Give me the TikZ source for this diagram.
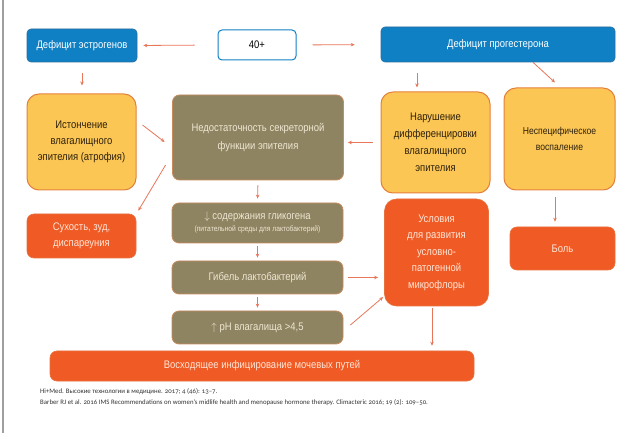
\documentclass[tikz,border=0pt]{standalone}
\usepackage{fontspec}
\setmainfont{Liberation Sans}[FakeStretch=0.86]
\newfontfamily\reffont{Carlito}[Numbers=OldStyle]
\usetikzlibrary{arrows.meta}
\definecolor{cblue}{HTML}{1080C4}
\definecolor{cblueb}{HTML}{2A6E9E}
\definecolor{cyel}{HTML}{FBC654}
\definecolor{cyelb}{HTML}{E5803C}
\definecolor{colive}{HTML}{8E8462}
\definecolor{coliveb}{HTML}{C98B5E}
\definecolor{colivet}{HTML}{EEE6D2}
\definecolor{corg}{HTML}{F05A24}
\definecolor{corgb}{HTML}{E8703C}
\definecolor{corgt}{HTML}{FFE6D8}
\definecolor{carr}{HTML}{E8775A}
\definecolor{cytext}{HTML}{2E200C}
\begin{document}
\begin{tikzpicture}[x=1pt,y=-1pt,
  box/.style={rectangle,align=center,inner sep=2pt,font=\fontsize{11}{16}\selectfont},
  bluebox/.style={box,fill=cblue,draw=cblueb,line width=0.6pt,text=white,rounded corners=4pt},
  whitebox/.style={box,fill=white,draw=cblue,line width=1pt,text=black,rounded corners=4pt},
  yelbox/.style={box,fill=cyel,draw=cyelb,line width=1pt,text=cytext,rounded corners=12pt},
  olbox/.style={box,fill=colive,draw=coliveb,line width=0.8pt,text=colivet,rounded corners=7pt},
  orbox/.style={box,fill=corg,draw=corgb,line width=0.6pt,text=corgt,rounded corners=7pt},
  arr/.style={draw=carr,line width=0.8pt,-{Stealth[length=4pt,width=3.5pt]}}]
\useasboundingbox (0,0) rectangle (641,433);
\fill[white] (0,0) rectangle (641,433);
\fill[gray!75] (2,0) rectangle (4.2,433);

\node[bluebox,minimum width=110pt,minimum height=33pt] (estr) at (82,45.5) {Дефицит эстрогенов};
\node[whitebox,minimum width=78pt,minimum height=30pt] (forty) at (257,45) {40+};
\node[bluebox,minimum width=234pt,minimum height=35pt] (prog) at (498,44.5) {Дефицит прогестерона};

\node[yelbox,minimum width=109pt,minimum height=96pt] (ist) at (81.5,142) {Истончение\\влагалищного\\эпителия (атрофия)};
\node[olbox,minimum width=171pt,minimum height=85pt,font=\fontsize{11}{18}\selectfont] (ned) at (258,137.5) {Недостаточность секреторной\\функции эпителия};
\node[yelbox,minimum width=109pt,minimum height=101pt,font=\fontsize{11}{17}\selectfont] (nar) at (435.5,142.5) {Нарушение\\дифференцировки\\влагалищного\\эпителия};
\node[yelbox,minimum width=111pt,minimum height=102pt,font=\fontsize{10}{16}\selectfont] (nesp) at (559.5,139) {Неспецифическое\\воспаление};

\node[orbox,minimum width=109pt,minimum height=44pt] (sukh) at (81.5,236) {Сухость, зуд,\\диспареуния};
\node[olbox,minimum width=171pt,minimum height=40pt] (glik) at (257.5,223) {$\downarrow$ содержания гликогена\\[-4pt]{\fontsize{7.8}{9}\selectfont (питательной среды для лактобактерий)}};
\node[olbox,minimum width=171pt,minimum height=33pt] (gib) at (257.5,277.5) {Гибель лактобактерий};
\node[olbox,minimum width=171pt,minimum height=33pt] (ph) at (257.5,327.5) {$\uparrow$ pH влагалища >4,5};
\node[orbox,minimum width=104pt,minimum height=107pt,rounded corners=12pt,font=\fontsize{11}{16.5}\selectfont] (usl) at (436.5,252.5) {Условия\\для развития\\условно-\\патогенной\\микрофлоры};
\node[orbox,minimum width=105pt,minimum height=43pt] (bol) at (562.5,248.5) {Боль};
\node[orbox,minimum width=424pt,minimum height=30pt] (vosh) at (262,366) {Восходящее инфицирование мочевых путей};

\node[anchor=west,inner sep=0pt,text=black!80,font=\reffont\fontsize{6.8}{8}\selectfont] (ref1) at (40,392) {Hi+Med. Высокие технологии в медицине. 2017; 4 (46): 13–7.};
\node[anchor=west,inner sep=0pt,text=black!80,font=\reffont\fontsize{6.8}{8}\selectfont] (ref2) at (40,402.5) {Barber RJ et al. 2016 IMS Recommendations on women’s midlife health and menopause hormone therapy. Climacteric 2016; 19 (2): 109–50.};

% arrows
\draw[arr,shorten <=23pt,shorten >=6pt] (forty.west) -- (estr.east);
\draw[arr,shorten <=16pt,shorten >=26pt] (forty.east) -- (prog.west);
\draw[arr,shorten <=11pt,shorten >=8pt] (estr.south) -- (estr.south |- ist.north);
\draw[arr] ([xshift=6pt,yshift=17pt]ist.east) -- ([xshift=-7.5pt,yshift=-4.5pt]ned.west);
\draw[arr] ([xshift=-6.5pt,yshift=-27.5pt]ned.west) -- ([xshift=2pt,yshift=3pt]sukh.north east);
\draw[arr,shorten <=8pt,shorten >=4pt] (nar.west) -- ([yshift=-5pt]ned.east);
\draw[arr,shorten <=11pt,shorten >=4pt] ([xshift=-81pt]prog.south) -- ([xshift=-18.5pt]nar.north);
\draw[arr] ([xshift=35pt]prog.south) -- ([xshift=-4.5pt,yshift=5pt]nesp.north);
\draw[arr,shorten <=5pt,shorten >=4pt] (ned.south) -- (glik.north);
\draw[arr,shorten <=3pt,shorten >=3pt] (glik.south) -- (gib.north);
\draw[arr,shorten <=3pt,shorten >=3pt] (gib.south) -- (ph.north);
\draw[arr,shorten <=5pt,shorten >=6pt] (gib.east) -- (gib.east -| usl.west);
\draw[arr] ([xshift=7pt,yshift=2.5pt]ph.east) -- ([xshift=-1pt,yshift=-44.5pt]usl.west);
\draw[arr,shorten <=2pt,shorten >=5pt] ([xshift=-4.5pt]usl.south) -- ([xshift=-4.5pt]usl.south |- vosh.north);
\draw[arr,shorten <=7pt,shorten >=5pt] ([xshift=-4.5pt]nesp.south) -- ([xshift=-4.5pt]nesp.south |- bol.north);
\end{tikzpicture}
\end{document}
